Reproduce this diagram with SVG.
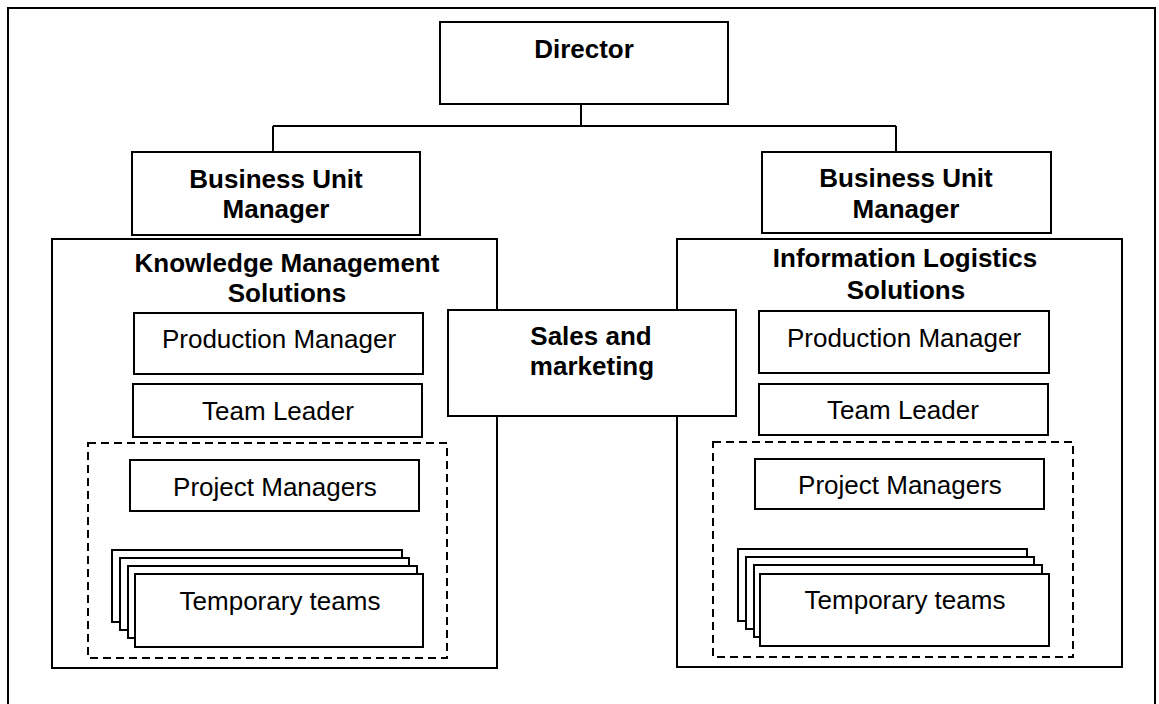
<svg xmlns="http://www.w3.org/2000/svg" width="1159" height="704" viewBox="0 0 1159 704">
<style>
.box{fill:#fff;stroke:#000;stroke-width:2}
.dash{fill:none;stroke:#000;stroke-width:2;stroke-dasharray:8 5}
.frame{fill:none;stroke:#000;stroke-width:2}
.conn{fill:none;stroke:#000;stroke-width:2}
.b{font-family:"Liberation Sans",Arial,sans-serif;font-weight:bold;font-size:26px;text-anchor:middle;fill:#000}
.r{font-family:"Liberation Sans",Arial,sans-serif;font-size:26px;text-anchor:middle;fill:#000}
</style>
<rect id="frame" class="frame" x="8" y="8" width="1147" height="720"/>
<g id="connectors">
<path class="conn" d="M581 104 V126 M273 126 H896 M273 126 V152 M896 126 V152"/>
</g>
<g id="director">
<rect class="box" x="440" y="22" width="288" height="82"/>
<text class="b" x="584" y="58">Director</text>
</g>
<g id="bu-manager-left">
<rect class="box" x="132" y="152" width="288" height="83"/>
<text class="b" x="276" y="188">Business Unit</text>
<text class="b" x="276" y="218">Manager</text>
</g>
<g id="bu-manager-right">
<rect class="box" x="762" y="152" width="289" height="81"/>
<text class="b" x="906" y="187">Business Unit</text>
<text class="b" x="906" y="218">Manager</text>
</g>
<g id="kms">
<rect class="box" x="52" y="239" width="445" height="429"/>
<text class="b" x="287" y="272">Knowledge Management</text>
<text class="b" x="287" y="302">Solutions</text>
</g>
<g id="ils">
<rect class="box" x="677" y="239" width="445" height="428"/>
<text class="b" x="905" y="267">Information Logistics</text>
<text class="b" x="906" y="299">Solutions</text>
</g>
<g id="sales-marketing">
<rect class="box" x="448" y="310" width="288" height="106"/>
<text class="b" x="591" y="345">Sales and</text>
<text class="b" x="592" y="375">marketing</text>
</g>
<g id="production-manager-left">
<rect class="box" x="134" y="313" width="289" height="61"/>
<text class="r" x="279" y="348">Production Manager</text>
</g>
<g id="production-manager-right">
<rect class="box" x="759" y="311" width="290" height="62"/>
<text class="r" x="904" y="347">Production Manager</text>
</g>
<g id="team-leader-left">
<rect class="box" x="133" y="384" width="289" height="53"/>
<text class="r" x="278" y="420">Team Leader</text>
</g>
<g id="team-leader-right">
<rect class="box" x="759" y="384" width="289" height="51"/>
<text class="r" x="903" y="419">Team Leader</text>
</g>
<g id="project-group-left">
<rect class="dash" x="88" y="443" width="359" height="215"/>
</g>
<g id="project-group-right">
<rect class="dash" x="713" y="442" width="360" height="215"/>
</g>
<g id="project-managers-left">
<rect class="box" x="130" y="460" width="289" height="51"/>
<text class="r" x="275" y="496">Project Managers</text>
</g>
<g id="project-managers-right">
<rect class="box" x="755" y="459" width="289" height="50"/>
<text class="r" x="900" y="494">Project Managers</text>
</g>
<g id="temporary-teams-left">
<rect class="box" x="112" y="550" width="290" height="72"/>
<rect class="box" x="120" y="558" width="289" height="72"/>
<rect class="box" x="128" y="566" width="289" height="72"/>
<rect class="box" x="135" y="574" width="288" height="73"/>
<text class="r" x="280" y="610">Temporary teams</text>
</g>
<g id="temporary-teams-right">
<rect class="box" x="738" y="549" width="289" height="72"/>
<rect class="box" x="746" y="557" width="288" height="72"/>
<rect class="box" x="754" y="565" width="288" height="72"/>
<rect class="box" x="760" y="574" width="289" height="72"/>
<text class="r" x="905" y="609">Temporary teams</text>
</g>
</svg>
